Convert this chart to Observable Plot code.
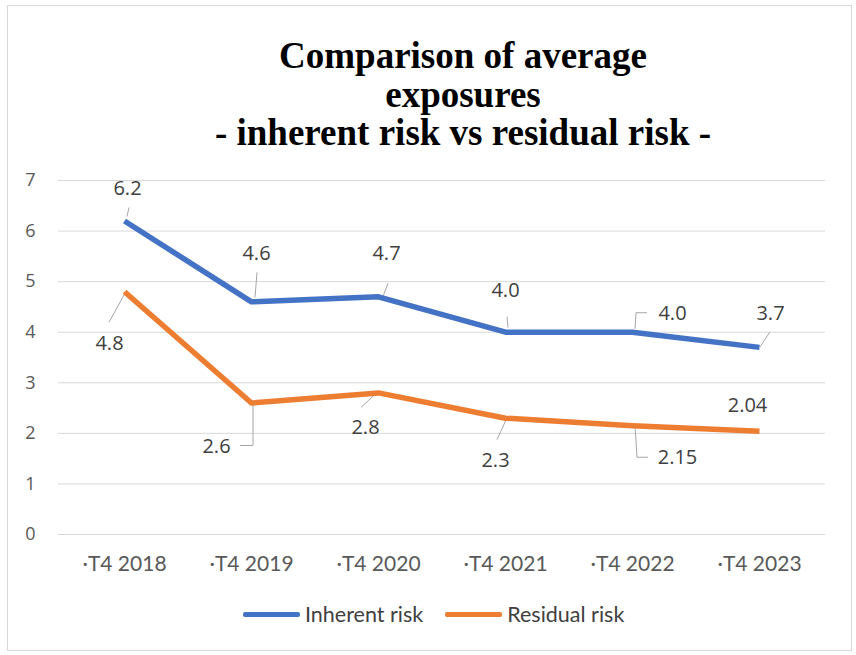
<!DOCTYPE html>
<html>
<head>
<meta charset="utf-8">
<script src="https://cdn.jsdelivr.net/npm/d3@7"></script>
<script src="https://cdn.jsdelivr.net/npm/@observablehq/plot@0.6"></script>
<style>
  html, body { margin: 0; padding: 0; background: #fff; }
  #frame { position: relative; width: 856px; height: 655px; overflow: hidden; background: #fff; }
  #border { position: absolute; left: 7px; top: 5px; width: 845px; height: 646px; box-sizing: border-box; border: 1px solid #d9d9d9; }
  #title { position: absolute; left: 70px; right: 0; top: 37px; text-align: center;
           font-family: "Liberation Serif", "Times New Roman", serif; font-weight: bold;
           font-size: 37px; line-height: 38.5px; color: #000; }
  #chart { position: absolute; left: 0; top: 160px; }
  #legend { position: absolute; left: 243px; top: 601px; display: flex; align-items: center;
            font-family: Lato, sans-serif; font-size: 21.5px; color: #404040; white-space: nowrap; }
  .swatch { display: inline-block; width: 57px; height: 5px; border-radius: 2px; margin-right: 5px; }
</style>
</head>
<body>
<div id="frame">
  <div id="border"></div>
  <div id="title">Comparison of average<br>exposures<br>- inherent risk vs residual risk -</div>
  <div id="chart"></div>
  <div id="legend"></div>
</div>
<script>
// Quarter categories and the two exposure series
const quarters = ["·T4 2018", "·T4 2019", "·T4 2020", "·T4 2021", "·T4 2022", "·T4 2023"];
const inherentRisk = [6.2, 4.6, 4.7, 4.0, 4.0, 3.7];
const residualRisk = [4.8, 2.6, 2.8, 2.3, 2.15, 2.04];
const inherentText = ["6.2", "4.6", "4.7", "4.0", "4.0", "3.7"];
const residualText = ["4.8", "2.6", "2.8", "2.3", "2.15", "2.04"];
const yTicks = [0, 1, 2, 3, 4, 5, 6, 7];
const seriesNames = ["Inherent risk", "Residual risk"];
const seriesColors = ["#4472C4", "#ED7D31"];

// Label placement (pixel offsets from each point) and leader-line paths
const inherentLabelOffset = [[3, -32], [5, -48], [8, -43], [0, -42], [40, -19], [11, -34]];
const residualLabelOffset = [[-15, 52], [-35, 44], [-13, 35], [-10, 42], [45, 32], [-12, -26]];
const inherentLeaders = [
  [[3, -4], [5, -13]],
  [[4, -4], [6, -29]],
  [[5, 0], [10, -13]],
  [[3, -4], [2, -15]],
  [[3, -3], [4, -19], [15, -19]],
  [[1, 0], [11, -15]]
];
const residualLeaders = [
  [[1, 2], [-15, 31]],
  [[2, -2], [2, 43], [-11, 43]],
  [[-2, 1], [-17, 15]],
  [[2, 0], [-8, 22]],
  [[3, 0], [5, 32], [16, 32]],
  null
];

const rows = [];
quarters.forEach((q, i) => {
  rows.push({quarter: q, series: seriesNames[0], value: inherentRisk[i], text: inherentText[i],
             offset: inherentLabelOffset[i], leader: inherentLeaders[i]});
  rows.push({quarter: q, series: seriesNames[1], value: residualRisk[i], text: residualText[i],
             offset: residualLabelOffset[i], leader: residualLeaders[i]});
});

// Leader lines from each point toward its value label
const leaderMark = (index, scales) => {
  const g = d3.create("svg:g")
    .attr("fill", "none")
    .attr("stroke", "#a6a6a6")
    .attr("stroke-width", 1);
  for (const r of rows) {
    if (!r.leader) continue;
    const px = scales.x(r.quarter), py = scales.y(r.value);
    g.append("polyline")
      .attr("points", r.leader.map(([dx, dy]) => `${px + dx},${py + dy}`).join(" "));
  }
  return g.node();
};

const labelMarks = rows.map(r => Plot.text([r], {
  x: "quarter", y: "value", text: "text",
  dx: r.offset[0], dy: r.offset[1],
  fill: "#404040", fontSize: 20, fontFamily: "'Open Sans', sans-serif"
}));

const chart = Plot.plot({
  width: 856,
  height: 420,
  marginTop: 20,
  marginBottom: 46,
  marginLeft: 58,
  marginRight: 31,
  style: {background: "transparent", overflow: "visible"},
  x: {type: "point", domain: quarters, padding: 0.5, label: null},
  y: {domain: [0, 7], label: null},
  color: {domain: seriesNames, range: seriesColors},
  marks: [
    Plot.gridY(yTicks, {stroke: "#d9d9d9", strokeOpacity: 1, strokeWidth: 1}),
    Plot.axisY(yTicks, {tickSize: 0, tickPadding: 23, fontSize: 18, fill: "#595959",
                        tickFormat: d => String(d),
                        fontFamily: "'Open Sans', sans-serif", label: null}),
    Plot.axisX({tickSize: 0, tickPadding: 22, fontSize: 21, fill: "#595959",
                fontFamily: "Lato, sans-serif", label: null}),
    leaderMark,
    Plot.line(rows, {x: "quarter", y: "value", z: "series", stroke: "series",
                     strokeWidth: 5.5, strokeLinejoin: "round", strokeLinecap: "butt"}),
    ...labelMarks
  ]
});
document.getElementById("chart").appendChild(chart);

// Legend below the plot
const legend = d3.select("#legend");
seriesNames.forEach((name, i) => {
  const item = legend.append("span").style("display", "inline-flex").style("align-items", "center")
    .style("margin-right", i === 0 ? "22px" : "0");
  item.append("span").attr("class", "swatch").style("background", seriesColors[i]);
  item.append("span").text(name);
});
</script>
</body>
</html>
